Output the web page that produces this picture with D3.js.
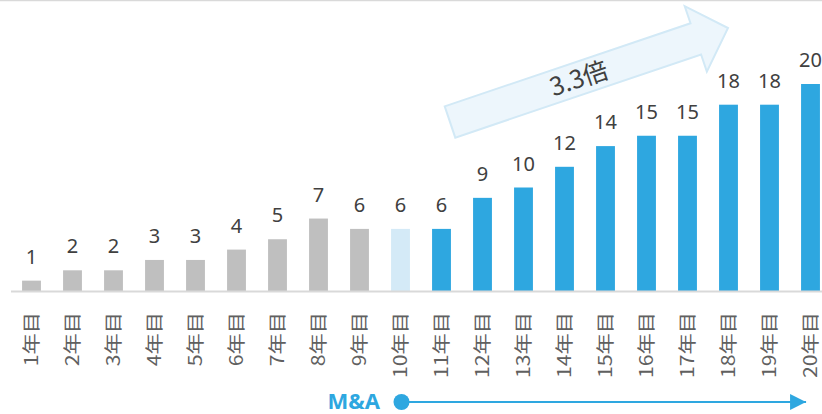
<!DOCTYPE html>
<html>
<head>
<meta charset="utf-8">
<script src="https://cdn.jsdelivr.net/npm/d3@7/dist/d3.min.js"></script>
<style>
  html, body { margin: 0; padding: 0; background: #fff; }
  svg { display: block; }
</style>
</head>
<body>
<svg id="chart" width="822" height="414"></svg>
<script>
// Yearly counts, with the phase each year belongs to
const years = ["1年目","2年目","3年目","4年目","5年目","6年目","7年目","8年目","9年目","10年目",
               "11年目","12年目","13年目","14年目","15年目","16年目","17年目","18年目","19年目","20年目"];
const counts = [1, 2, 2, 3, 3, 4, 5, 7, 6, 6, 6, 9, 10, 12, 14, 15, 15, 18, 18, 20];
const phases = ["before","before","before","before","before","before","before","before","before","transition",
                "after","after","after","after","after","after","after","after","after","after"];
const growthLabel = "3.3倍";
const maLabel = "M&A";
const maStartYear = "10年目";
const maEndYear = "20年目";

const phaseColor = { before: "#bfbfbf", transition: "#d4eaf7", after: "#2ea7e0" };

const svg = d3.select("#chart");
const W = 822, H = 414;

const x = d3.scaleBand().domain(years).range([11, 831]).paddingInner(0.54).paddingOuter(0.27);
const y = d3.scaleLinear().domain([0, 20]).range([291, 84]);

// thin rule along the top edge
svg.append("line").attr("x1", 0).attr("x2", W).attr("y1", 0.5).attr("y2", 0.5)
  .attr("stroke", "#d9d9d9").attr("stroke-width", 1.5);

// bars
svg.append("g").selectAll("rect").data(years).join("rect")
  .attr("x", d => x(d))
  .attr("y", (d, i) => y(counts[i]))
  .attr("width", x.bandwidth())
  .attr("height", (d, i) => y(0) - y(counts[i]))
  .attr("fill", (d, i) => phaseColor[phases[i]]);

// baseline
svg.append("line").attr("x1", 11).attr("x2", W).attr("y1", 291.5).attr("y2", 291.5)
  .attr("stroke", "#d9d9d9").attr("stroke-width", 2);

// value labels
svg.append("g").selectAll("text").data(years).join("text")
  .attr("x", d => x(d) + x.bandwidth() / 2)
  .attr("y", (d, i) => y(counts[i]) - 17)
  .attr("text-anchor", "middle")
  .attr("font-family", "'Noto Sans', 'Open Sans', sans-serif")
  .attr("font-size", 20)
  .attr("fill", "#404040")
  .text((d, i) => counts[i]);

// category axis, labels rotated to read bottom-up and widened along the reading direction
const xAxis = d3.axisBottom(x).tickSize(0).tickPadding(0);
const axisG = svg.append("g").attr("transform", "translate(0,291)").call(xAxis);
axisG.select(".domain").remove();
axisG.selectAll(".tick text")
  .attr("transform", "translate(0,21) rotate(-90) scale(1.18,1)")
  .attr("x", 0).attr("y", 0).attr("dy", "0.36em")
  .attr("text-anchor", "end")
  .attr("font-family", "'Noto Sans CJK JP', sans-serif")
  .attr("font-size", 18)
  .attr("fill", "#606060");

// growth arrow (block arrow rotated along the trend)
const tail = [450, 122], tip = [728, 28];
const ang = Math.atan2(tip[1] - tail[1], tip[0] - tail[0]);
const len = Math.hypot(tip[0] - tail[0], tip[1] - tail[1]);
const shaftW = 33, headW = 69, headL = 34;
const pts = [
  [0, -shaftW / 2], [len - headL, -shaftW / 2], [len - headL, -headW / 2],
  [len, 0], [len - headL, headW / 2], [len - headL, shaftW / 2], [0, shaftW / 2]
];
const arrowG = svg.append("g")
  .attr("transform", `translate(${tail[0]},${tail[1]}) rotate(${ang * 180 / Math.PI})`);
arrowG.append("path")
  .attr("d", d3.line()(pts) + "Z")
  .attr("fill", "#edf6fc")
  .attr("stroke", "#d2e9f6")
  .attr("stroke-width", 2)
  .attr("stroke-linejoin", "miter");
arrowG.append("text")
  .attr("x", 136).attr("y", 0).attr("dy", "0.36em")
  .attr("text-anchor", "middle")
  .attr("font-family", "'Noto Sans CJK JP', 'Noto Sans', sans-serif")
  .attr("font-size", 25)
  .attr("fill", "#404040")
  .text(growthLabel);

// M&A timeline
const maY = 402;
const x0 = x(maStartYear) + x.bandwidth() / 2;
const x1 = x(maEndYear) + 5;
svg.append("defs").append("marker")
  .attr("id", "maHead").attr("viewBox", "0 0 10 10")
  .attr("refX", 10).attr("refY", 5)
  .attr("markerWidth", 16).attr("markerHeight", 16)
  .attr("markerUnits", "userSpaceOnUse")
  .attr("orient", "auto")
  .append("path").attr("d", "M0,0 L10,5 L0,10 Z").attr("fill", "#2ea7e0");
svg.append("line")
  .attr("x1", x0).attr("x2", x1).attr("y1", maY).attr("y2", maY)
  .attr("stroke", "#2ea7e0").attr("stroke-width", 2)
  .attr("marker-end", "url(#maHead)");
svg.append("circle").attr("cx", x0 + 1).attr("cy", maY).attr("r", 8).attr("fill", "#2ea7e0");
svg.append("text")
  .attr("x", 380).attr("y", 409)
  .attr("text-anchor", "end")
  .attr("font-family", "'Noto Sans', 'Open Sans', sans-serif")
  .attr("font-weight", "bold")
  .attr("font-size", 22)
  .attr("fill", "#2ea7e0")
  .text(maLabel);
</script>
</body>
</html>
